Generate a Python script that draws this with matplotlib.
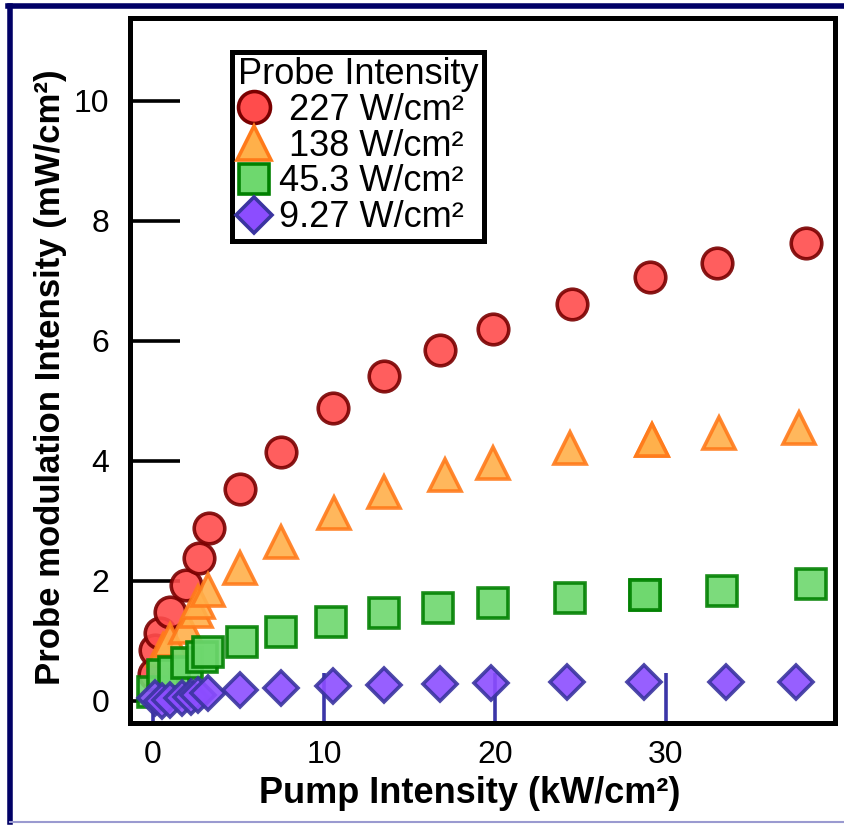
import matplotlib.pyplot as plt
from matplotlib.lines import Line2D

plt.rcParams['font.family'] = ['Liberation Sans', 'DejaVu Sans']

# pump intensity (kW/cm^2) and probe modulation (mW/cm^2) for each probe level
pump_227 = [0.05, 0.1, 0.4, 1.0, 1.9, 2.7, 3.3, 5.1, 7.5, 10.5, 13.5, 16.8, 19.9, 24.5, 29.1, 33.0, 38.2]
mod_227 = [0.45, 0.85, 1.13, 1.48, 1.93, 2.38, 2.88, 3.53, 4.15, 4.88, 5.42, 5.85, 6.2, 6.62, 7.07, 7.30, 7.63]

pump_138 = [0.6, 1.0, 1.9, 2.5, 2.6, 3.2, 5.1, 7.5, 10.6, 13.5, 17.1, 19.9, 24.4, 29.2, 29.2, 33.1, 37.8]
mod_138 = [0.85, 1.02, 1.23, 1.5, 1.65, 1.85, 2.22, 2.65, 3.13, 3.48, 3.77, 3.97, 4.22, 4.35, 4.35, 4.47, 4.55]

pump_45 = [0.0, 0.6, 1.2, 2.0, 2.85, 3.2, 5.2, 7.5, 10.4, 13.5, 16.7, 19.9, 24.4, 28.8, 28.8, 33.3, 38.5]
mod_45 = [0.15, 0.43, 0.48, 0.63, 0.73, 0.82, 0.98, 1.15, 1.32, 1.47, 1.55, 1.63, 1.72, 1.77, 1.77, 1.83, 1.95]

pump_9 = [0.1, 0.5, 1.0, 1.7, 2.2, 2.6, 3.2, 5.1, 7.5, 10.5, 13.5, 16.8, 19.8, 24.2, 28.7, 33.5, 37.6]
mod_9 = [0.05, 0.0, 0.02, 0.05, 0.07, 0.10, 0.13, 0.18, 0.22, 0.25, 0.27, 0.28, 0.30, 0.32, 0.32, 0.32, 0.32]

labels = [' 227 W/cm²', ' 138 W/cm²', '45.3 W/cm²', '9.27 W/cm²']
x_ticks = [0, 10, 20, 30]
y_ticks = [0, 2, 4, 6, 8, 10]

series = [
    (pump_227, mod_227, 'o', '#ff4c4c', '#7a0000', 22),
    (pump_138, mod_138, '^', '#ffb04a', '#ff7a1a', 23),
    (pump_45, mod_45, 's', '#6ed86e', '#008000', 21),
    (pump_9, mod_9, 'D', '#8c4dff', '#3a34a0', 17),
]

fig = plt.figure(figsize=(8.44, 8.25), dpi=100)
ax = fig.add_axes([130 / 844, 1 - 723 / 825, 705 / 844, 705 / 825])

handles = []
for xs, ys, m, fc, ec, ms in series:
    ax.plot(xs, ys, linestyle='none', marker=m, markersize=ms,
            markerfacecolor=fc, markeredgecolor=ec, markeredgewidth=2.6,
            alpha=0.9, zorder=3)
    handles.append(Line2D([], [], linestyle='none', marker=m, markersize=ms + 1,
                          markerfacecolor=fc, markeredgecolor=ec,
                          markeredgewidth=2.6))

ax.set_xlim(-1.35, 39.9)
ax.set_ylim(-0.37, 11.38)
ax.set_xticks(x_ticks)
ax.set_yticks(y_ticks)

for s in ax.spines.values():
    s.set_linewidth(3.6)
ax.tick_params(axis='y', direction='in', length=36, width=2.6, pad=15,
               labelsize=23, color='black')
ax.tick_params(axis='x', direction='in', length=36, width=2.6, pad=12,
               labelsize=23, color='#3b36a8')

ax.set_xlabel('Pump Intensity (kW/cm²)', fontsize=26, fontweight='bold')
ax.set_ylabel('Probe modulation Intensity (mW/cm²)', fontsize=25, fontweight='bold')
ax.xaxis.set_label_coords(0.482, -0.075)
ax.yaxis.set_label_coords(-0.09, 0.49)

leg = ax.legend(handles, labels, title='Probe Intensity', loc='upper left',
                bbox_to_anchor=(0.145, 0.952), borderaxespad=0, fontsize=26,
                title_fontsize=26, handlelength=0.9, handletextpad=0.25,
                labelspacing=0.02, borderpad=0.15, frameon=True, fancybox=False,
                edgecolor='black', framealpha=1)
leg.get_frame().set_linewidth(3.6)
leg._legend_box.align = 'left'

# outer navy frame
fig.add_artist(Line2D([8 / 844, 1.0], [1 - 6 / 825, 1 - 6 / 825],
                      transform=fig.transFigure, color='#000066', linewidth=4))
fig.add_artist(Line2D([10 / 844, 10 / 844], [1 - 6 / 825, 1 - 822 / 825],
                      transform=fig.transFigure, color='#000066', linewidth=4))
fig.add_artist(Line2D([10 / 844, 1.0], [1 - 822 / 825, 1 - 822 / 825],
                      transform=fig.transFigure, color='#9a9ad0', linewidth=1.5))

fig.savefig('out.png', dpi=100)
